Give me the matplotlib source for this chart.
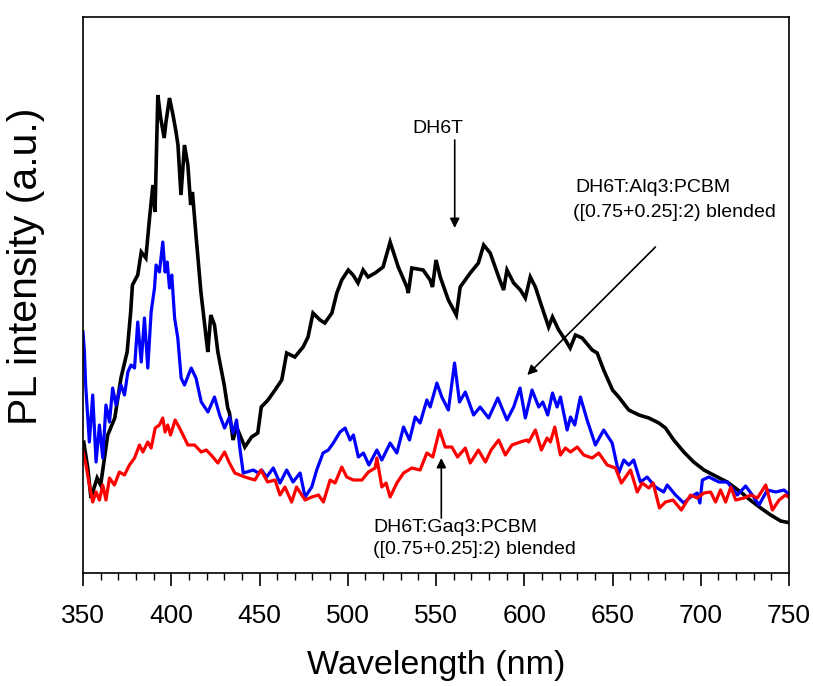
import matplotlib.pyplot as plt
from matplotlib.ticker import MultipleLocator, NullLocator
import numpy as np

plt.rcParams['font.family'] = ['Liberation Sans', 'DejaVu Sans']

# DH6T (black)
wl_dh6t = [349, 350.5, 352.7, 354.5, 358, 360, 364, 368, 371.5, 375, 377, 378, 381, 383,
           385.6, 387.7, 389.6, 390.8, 392.4, 394, 396, 397, 399, 401, 402.7, 403.8,
           405.5, 407.5, 409.4, 411, 412, 414, 416.8, 419.6, 420.7, 422.4, 424.5, 426.4,
           430, 432, 433, 435, 437, 441.7, 445.5, 449, 451, 454.8, 458.8, 462.6, 465.4,
           470, 474.7, 477.5, 480.3, 484.3, 487, 491, 493.8, 496.6, 500.3, 503, 505.8,
           508.7, 511.5, 515.5, 520, 524, 528.6, 533.5, 534.3, 536.3, 542.7, 546.7, 548,
           550, 552.4, 557, 561.5, 563.7, 569.4, 574, 577, 580.7, 585.5, 588.3, 590.2,
           594, 597.8, 600.6, 603.4, 606.3, 610, 613.8, 616, 619.5, 623.3, 626, 629,
           632.8, 638.5, 641.3, 645, 650, 653.5, 659.2, 665, 670.6, 676.3, 680, 684.7,
           690.4, 696, 701.8, 709.4, 715, 722.6, 728, 734, 739.6, 745.3, 751]
pl_dh6t = [128, 130, 105, 75, 95, 88, 138, 155, 195, 221, 261, 288, 298, 321,
           315, 355, 388, 361, 478, 455, 435, 451, 475, 458, 441, 428,
           378, 428, 408, 368, 381, 338, 281, 238, 221, 258, 248, 221,
           188, 165, 160, 133, 146, 126, 136, 140, 166, 173, 183, 193, 220,
           216, 226, 236, 260, 253, 250, 260, 280, 293, 303, 298, 290,
           303, 296, 300, 306, 331, 306, 286, 280, 305, 303, 293, 286,
           313, 296, 273, 258, 286, 300, 310, 328, 320, 296, 283, 303,
           290, 283, 275, 296, 286, 266, 246, 256, 243, 233, 225, 238,
           235, 223, 220, 203, 183, 176, 163, 158, 155, 150, 145, 133,
           121, 111, 103, 96, 91, 81, 73, 65, 58, 52, 50]

# DH6T:Alq3:PCBM (blue)
wl_alq3 = [350, 350.8, 351.5, 353.6, 355.5, 357.4, 359.3, 361.2, 363, 365, 366.8, 368.7,
           371.5, 373.5, 375.4, 377.2, 379.2, 381, 383, 384.8, 386.7, 388.6, 390.5,
           391.4, 393.3, 395.2, 396.5, 397.7, 399, 400.3, 401.9, 403.7, 405.6, 407.5,
           411.3, 414, 417, 420.8, 424.5, 427.4, 430.2, 433, 435, 437, 439, 440.8,
           446.5, 449.3, 451.2, 454, 457.8, 461.6, 465.4, 469, 473, 475.8, 479.6,
           482.4, 486, 489, 491.8, 495.6, 498.5, 501.3, 503.2, 506, 508.9, 512,
           516.5, 519.3, 524, 527.8, 531.6, 535, 538.2, 541, 544.8, 546.7, 550.5,
           553.3, 557, 560.5, 563.3, 566.6, 571.3, 575, 579.8, 585, 590.2, 594,
           597.6, 600.6, 604.4, 608.2, 610.5, 613.3, 616, 618.6, 620.5, 624.3, 626.2,
           628.6, 631.8, 635.6, 640.3, 645, 649.8, 653.5, 656.4, 659.2, 662, 665.8,
           669.6, 674.3, 679, 681, 685.7, 690.4, 694.2, 698, 699.5, 700.9, 704.6,
           710.3, 715, 720.7, 725.4, 729.2, 733, 737.7, 742.5, 747.2, 749.7]
pl_alq3 = [241, 221, 188, 131, 178, 111, 148, 115, 168, 151, 185, 168,
           188, 178, 201, 208, 205, 251, 211, 255, 205, 261, 285,
           308, 301, 331, 301, 311, 285, 298, 255, 235, 195, 188,
           205, 195, 171, 161, 176, 158, 145, 156, 140, 153, 123, 100,
           103, 100, 103, 96, 105, 90, 103, 91, 100, 76, 86,
           103, 120, 123, 130, 141, 145, 133, 138, 116, 120, 108,
           123, 113, 130, 120, 146, 133, 156, 150, 173, 166, 190,
           176, 163, 210, 171, 181, 158, 166, 155, 175, 153, 166,
           185, 155, 183, 166, 171, 158, 180, 166, 176, 143, 156,
           148, 176, 153, 128, 143, 130, 100, 113, 108, 113, 91,
           96, 86, 81, 88, 78, 70, 76, 80, 70, 93, 96,
           91, 91, 78, 87, 78, 68, 83, 81, 83, 79]

# DH6T:Gaq3:PCBM (red)
wl_gaq3 = [350, 351.7, 353.6, 355.5, 357.4, 359.3, 361.2, 363, 365, 367.8, 370.6, 373.5,
           376.3, 379.2, 382, 383.9, 386.7, 388.6, 390.9, 393.3, 395.2, 396.5, 398,
           399.6, 402.2, 404.7, 407.5, 409.4, 413.2, 417, 419.8, 422.6, 426.4, 430.2,
           433, 436, 441.7, 447.4, 450.8, 454.6, 458.8, 461.6, 464.4, 468.2, 471,
           475.8, 479.6, 483.4, 486.2, 490, 492.8, 496.6, 499.4, 503.2, 508, 511.7,
           515.5, 516.5, 519.3, 521.7, 524, 527.8, 531.6, 536.3, 541, 544.8, 548.2,
           552, 555.2, 559, 562.2, 566.6, 569.4, 574, 578, 581.2, 585.5, 589.3, 593,
           597.8, 601.5, 602.5, 606.3, 609.7, 612.9, 614.8, 617.3, 620.5, 623.3, 626.2,
           630, 633.7, 638.5, 642.2, 647, 651.7, 655, 660.2, 664, 666.8, 670.6, 673,
           676.6, 680, 684.3, 689, 694.2, 698, 701.8, 705.6, 708.4, 711.2, 714.1, 717,
           719.8, 724.5, 728.3, 732.1, 736.8, 740.6, 744.4, 748, 749.7]
pl_gaq3 = [121, 108, 88, 71, 81, 73, 88, 73, 95, 88, 101, 98,
           108, 115, 128, 121, 131, 125, 145, 148, 155, 141, 148,
           138, 153, 145, 135, 128, 128, 121, 123, 118, 110, 121,
           110, 100, 96, 93, 103, 91, 93, 78, 86, 71, 86,
           73, 76, 78, 71, 93, 90, 106, 96, 93, 93, 101,
           105, 115, 86, 90, 76, 90, 100, 105, 103, 120, 116,
           143, 126, 126, 116, 125, 110, 123, 111, 123, 133, 118, 128,
           131, 133, 131, 143, 123, 135, 131, 146, 118, 125, 121,
           126, 118, 115, 120, 108, 105, 90, 103, 81, 90, 85, 90,
           65, 71, 73, 63, 78, 75, 80, 81, 71, 83, 71, 86,
           73, 75, 78, 75, 88, 63, 73, 78, 76]

fig = plt.figure(figsize=(8.13, 6.86), dpi=100)
ax = fig.add_axes([0.1021, 0.1647, 0.8684, 0.8105])

ax.plot(wl_dh6t, pl_dh6t, color='black', lw=2.6, solid_joinstyle='miter')
ax.plot(wl_alq3, pl_alq3, color='#0000ff', lw=2.3)
ax.plot(wl_gaq3, pl_gaq3, color='#ff0000', lw=2.3)

ax.set_xlim(350, 750)
ax.set_ylim(0, 556)
ax.xaxis.set_major_locator(MultipleLocator(50))
ax.xaxis.set_minor_locator(MultipleLocator(10))
ax.yaxis.set_major_locator(NullLocator())
ax.tick_params(axis='x', which='major', direction='out', length=9, width=1.2,
               labelsize=19, pad=13)
ax.tick_params(axis='x', which='minor', direction='out', length=5, width=1.0)
for s in ax.spines.values():
    s.set_linewidth(1.2)

ax.set_xlabel('Wavelength (nm)', fontsize=24.5, labelpad=16)
fig.text(26 / 813, 1 - 266 / 686, 'PL intensity (a.u.)', fontsize=29.5,
         rotation=90, ha='center', va='center')

arrow = dict(arrowstyle='-|>', color='black', lw=1.2, mutation_scale=14,
             shrinkA=0, shrinkB=0)
ax.text(551, 445, 'DH6T', fontsize=14, ha='center', va='center')
ax.annotate('', xy=(560.6, 345), xytext=(560.6, 433), arrowprops=arrow)

ax.text(629, 386, 'DH6T:Alq3:PCBM', fontsize=14, ha='left', va='center')
ax.text(627.8, 361, '([0.75+0.25]:2) blended', fontsize=14, ha='left', va='center')
ax.annotate('', xy=(601.7, 198), xytext=(674.3, 326), arrowprops=arrow)

ax.text(514.5, 46, 'DH6T:Gaq3:PCBM', fontsize=14, ha='left', va='center')
ax.text(514.5, 24, '([0.75+0.25]:2) blended', fontsize=14, ha='left', va='center')
ax.annotate('', xy=(553, 115), xytext=(553, 55), arrowprops=arrow)

fig.savefig('out.png', dpi=100)
